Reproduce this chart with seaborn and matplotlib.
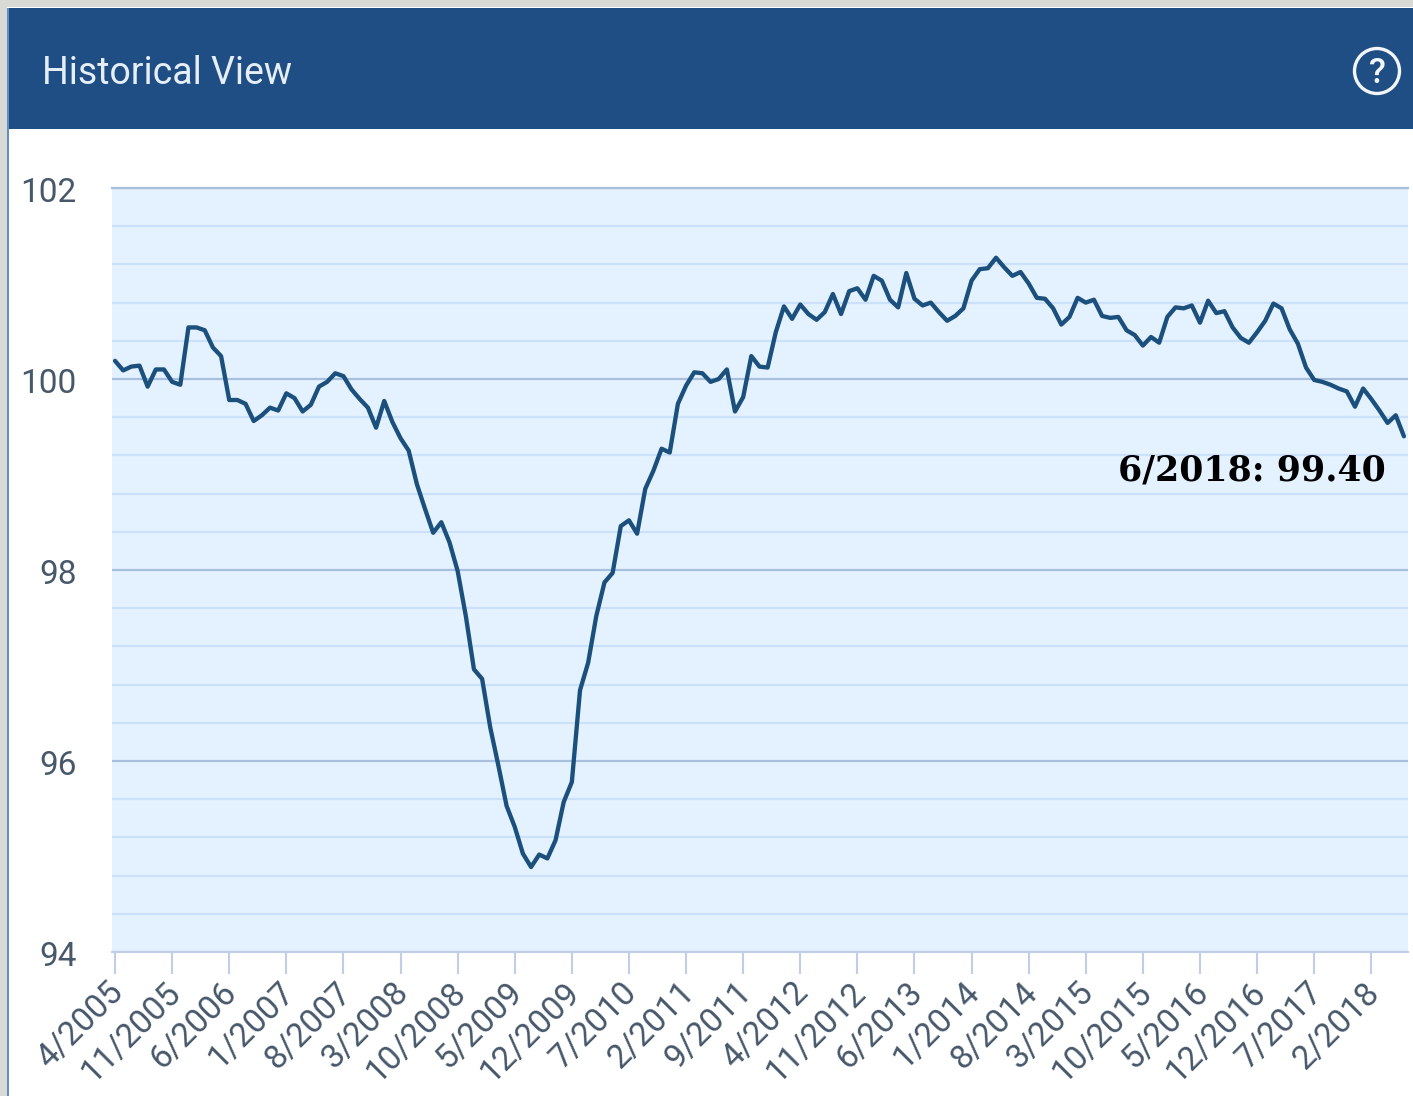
import matplotlib
matplotlib.use("Agg")
import matplotlib.pyplot as plt
from matplotlib.patches import Rectangle, Circle
from matplotlib.ticker import MultipleLocator
from matplotlib.transforms import ScaledTranslation
import pandas as pd
import seaborn as sns

values = [
    100.19,100.09,100.13,100.14,99.92,100.10,100.10,99.97,99.94,100.54,
    100.54,100.51,100.33,100.24,99.78,99.78,99.74,99.56,99.62,99.70,
    99.67,99.85,99.80,99.66,99.73,99.92,99.97,100.06,100.03,99.89,
    99.79,99.70,99.49,99.77,99.55,99.38,99.25,98.90,98.64,98.39,
    98.50,98.29,97.99,97.52,96.96,96.86,96.35,95.95,95.53,95.31,
    95.03,94.89,95.02,94.98,95.17,95.57,95.78,96.74,97.03,97.52,
    97.87,97.97,98.46,98.52,98.38,98.85,99.04,99.27,99.23,99.74,
    99.93,100.07,100.06,99.97,100.00,100.10,99.66,99.81,100.24,100.13,
    100.12,100.49,100.76,100.63,100.78,100.68,100.62,100.70,100.89,100.68,
    100.92,100.95,100.83,101.08,101.03,100.83,100.75,101.11,100.84,100.77,
    100.80,100.70,100.61,100.66,100.74,101.03,101.15,101.16,101.27,101.17,
    101.08,101.12,101.00,100.85,100.84,100.74,100.57,100.65,100.85,100.80,
    100.83,100.66,100.64,100.65,100.51,100.46,100.35,100.44,100.38,100.65,
    100.75,100.74,100.77,100.59,100.82,100.69,100.71,100.54,100.43,100.38,
    100.49,100.61,100.79,100.74,100.52,100.37,100.12,99.99,99.97,99.94,
    99.90,99.87,99.71,99.90,99.79,99.67,99.54,99.62,99.40,
]
months = list(range(len(values)))
tick_labels = ["4/2005","11/2005","6/2006","1/2007","8/2007","3/2008","10/2008","5/2009",
               "12/2009","7/2010","2/2011","9/2011","4/2012","11/2012","6/2013","1/2014",
               "8/2014","3/2015","10/2015","5/2016","12/2016","7/2017","2/2018"]
title = "Historical View"
callout = "6/2018: 99.40"

W, H = 1413, 1096
sns.set_theme(style="white")
plt.rcParams["font.family"] = ["Roboto", "DejaVu Sans"]
fig = plt.figure(figsize=(W/100, H/100), dpi=100, facecolor="#d9d9d6")

def fx(p): return p / W
def fy(p): return 1 - p / H

# panel
fig.add_artist(Rectangle((fx(7), 0), 1, fy(7), transform=fig.transFigure, fc="white", ec="none", zorder=-3))
fig.add_artist(Rectangle((fx(7), fy(129)), 1, fy(8) - fy(129), transform=fig.transFigure,
                         fc="#1f4e85", ec="none", zorder=-2))
fig.add_artist(Rectangle((fx(7), 0), 2/W, fy(8), transform=fig.transFigure, fc="#5f8fc4", ec="none", zorder=-1))
fig.text(fx(42), fy(69), title, color="#e6eef7", fontsize=27, va="center_baseline", ha="left")
fig.add_artist(Circle((1377/100, (H-71)/100), 0.225, transform=fig.dpi_scale_trans, fc="none", ec="#f2f5f9", lw=2.4))
fig.text(fx(1377), fy(70), "?", color="#f2f5f9", fontsize=25, fontweight="medium", ha="center", va="center_baseline")

ax = fig.add_axes([fx(112), fy(952), (1408-112)/W, (952-188)/H], facecolor="#e4f1ff")
df = pd.DataFrame({"month": months, "value": values})
sns.lineplot(data=df, x="month", y="value", ax=ax, color="#1b4f7c", lw=3.1, zorder=5, errorbar=None)

ax.set_xlim(-0.37, 158.5)
ax.set_ylim(94, 102)
ax.yaxis.set_major_locator(MultipleLocator(2))
ax.yaxis.set_minor_locator(MultipleLocator(0.4))
ax.grid(which="minor", axis="y", color="#cbe0fb", lw=1.5, zorder=1)
ax.grid(which="major", axis="y", color="#a8c0de", lw=1.6, zorder=2)
ax.set_axisbelow(True)
for s in ax.spines.values():
    s.set_visible(False)
ax.spines["bottom"].set_visible(True)
ax.spines["bottom"].set_color("#c0cfe6")
ax.spines["bottom"].set_linewidth(1.5)
ax.spines["top"].set_visible(True)
ax.spines["top"].set_color("#a8c0de")
ax.spines["top"].set_linewidth(1.6)
ax.set_xlabel("")
ax.set_ylabel("")
ax.set_xticks(months[::7])
ax.set_xticklabels(tick_labels, rotation=45, ha="right", rotation_mode="anchor",
                   fontsize=24, color="#46586a")
ax.tick_params(axis="x", length=16, width=1.5, color="#c0cfe6", pad=3, bottom=True)
ax.tick_params(axis="y", which="both", length=0, pad=25.5, labelsize=24, labelcolor="#46586a")

xoff = ScaledTranslation(-8/100, 2/100, fig.dpi_scale_trans)
for t in ax.get_xticklabels():
    t.set_transform(t.get_transform() + xoff)
yoff = ScaledTranslation(0, -1.5/100, fig.dpi_scale_trans)
for t in ax.get_yticklabels():
    t.set_transform(t.get_transform() + yoff)

ax.annotate(callout, xy=(fx(1386), fy(471)), xycoords="figure fraction", ha="right", va="center",
            family="DejaVu Serif", fontweight="bold", fontsize=25, color="black", zorder=6)

fig.savefig("out.png", dpi=100, facecolor=fig.get_facecolor())
